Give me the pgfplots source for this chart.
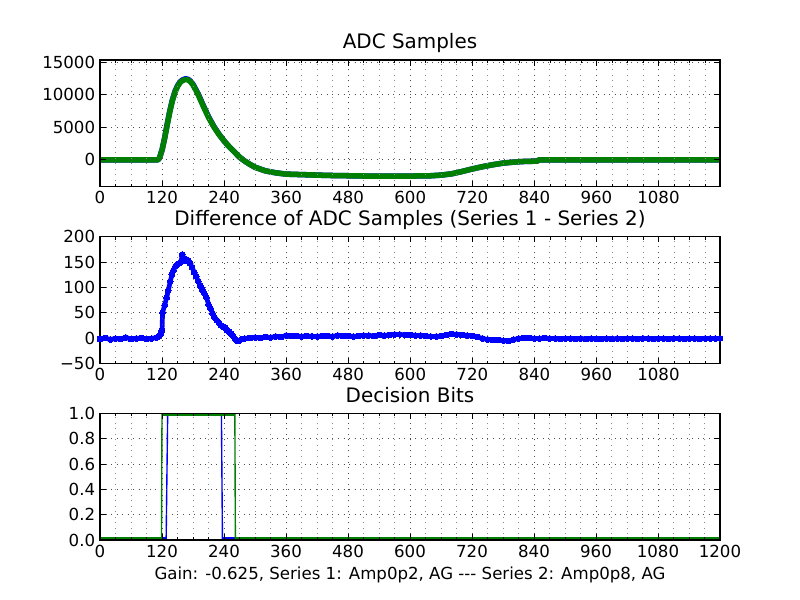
\documentclass[border=0pt]{standalone}
\usepackage{pgfplots}
\pgfplotsset{compat=1.18}
\usepackage{fontspec}
\setmainfont{DejaVu Sans}
\definecolor{mplblue}{rgb}{0,0,1}
\definecolor{mplgreen}{rgb}{0,0.5,0}
\pgfplotsset{
  mpl/.style={
    scale only axis, width=448.07pt, height=91.42pt,
    anchor=south west,
    axis on top,
    clip=true,
    tick align=inside,
    major tick length=4pt, minor tick length=2pt,
    every tick/.style={black, line width=0.5pt},
    axis line style={line width=1pt},
    grid=both,
    major grid style={black!70, line width=0.6pt, dash pattern=on 0.7pt off 3.3pt},
    minor grid style={black!45, line width=0.6pt, dash pattern=on 0.7pt off 3.3pt},
    xmin=0, xmax=1199,
    xtick={0,120,...,1080},
    minor xtick={30,60,...,1170},
    minor y tick num=0,
    scaled x ticks=false, scaled y ticks=false,
    ticklabel style={font=\fontsize{12}{14}\selectfont},
    /pgf/number format/assume math mode=true,
    /pgf/number format/1000 sep={},
    title style={at={(0.5,1)}, anchor=base, yshift=2pt, font=\fontsize{14.4}{17}\selectfont},
    unbounded coords=jump,
  }
}
\begin{document}
\begin{tikzpicture}
\path[use as bounding box, fill=white] (0,0) rectangle (578.16pt,433.62pt);

% ---------- Top: ADC Samples ----------
\begin{axis}[mpl, at={(72.27pt,298.84pt)},
  title={ADC Samples},
  ymin=-4100, ymax=15350,
  ytick={0,5000,10000,15000},
  yticklabels={0,5000,10000,15000}]
\addplot[mplblue, line width=4pt, line join=round] coordinates {
(0,0)(100,0)(110,0)(113,50)(115,300)(120,1500)(125,3350)(130,5500)(135,7500)(140,9200)(145,10500)(150,11400)(155,12000)(160,12300)(165,12450)(170,12400)(175,12100)(180,11600)(190,10100)(200,8300)(210,6600)(220,5150)(230,3950)(240,2900)(250,2000)(260,1200)(270,400)(280,-200)(290,-700)(300,-1150)(320,-1700)(340,-2000)(360,-2200)(400,-2300)(440,-2400)(480,-2450)(520,-2500)(600,-2500)(640,-2450)(660,-2350)(680,-2150)(700,-1800)(720,-1400)(740,-1050)(760,-750)(780,-500)(800,-350)(820,-250)(845,-200)(850,0)(1199,0)};
\addplot[mplgreen, line width=4pt, line join=round] coordinates {
(0,0)(100,0)(110,0)(113,50)(115,300)(120,1500)(125,3300)(130,5400)(135,7400)(140,9100)(145,10400)(150,11300)(155,11900)(160,12200)(165,12350)(170,12300)(175,12000)(180,11500)(190,10000)(200,8200)(210,6500)(220,5100)(230,3900)(240,2900)(250,2000)(260,1200)(270,400)(280,-200)(290,-700)(300,-1150)(320,-1700)(340,-2000)(360,-2200)(400,-2300)(440,-2400)(480,-2450)(520,-2500)(600,-2500)(640,-2450)(660,-2350)(680,-2150)(700,-1800)(720,-1400)(740,-1050)(760,-750)(780,-500)(800,-350)(820,-250)(845,-200)(850,0)(1199,0)};
\end{axis}

% ---------- Middle: Difference ----------
\begin{axis}[mpl, at={(72.27pt,171.06pt)},
  title={Difference of ADC Samples (Series 1 - Series 2)},
  ymin=-50, ymax=200,
  ytick={-50,0,50,100,150,200},
  yticklabels={−50,0,50,100,150,200}]
\addplot[mplblue, line width=3.4pt, line join=round, mark=*, mark size=2.1pt, mark options={line width=0pt}] coordinates {
(0,-2)(10,0)(20,-3)(30,-1)(40,-2)(50,1)(60,-2)(70,-1)(80,0)(90,-2)(100,-1)(110,1)(115,5)(118,10)(120,15)
(121,50)(125,65)(129,80)(132,94)(136,112)(139,125)(142,134)(146,142)(150,146)(154,148)(157,152)(159,165)(162,158)(165,152)(168,155)(171,153)(174,148)(178,140)(182,130)(186,122)(190,112)(194,103)(198,95)(202,88)(206,80)(210,66)(214,58)(218,48)(222,40)(226,35)(230,30)(234,25)(238,22)(242,20)(246,15)(250,12)(254,8)(258,3)(262,-3)(266,-6)(270,-5)(275,-2)(280,-1)
(290,0)(300,1)(310,0)(320,2)(330,1)(340,3)(350,2)(360,5)(370,4)(380,4)(390,3)(400,4)(410,3)(420,3)(430,4)(440,4)(450,3)(460,5)(470,4)(480,4)(490,3)(500,4)(510,5)(520,5)(530,4)(540,6)(550,5)(560,6)(570,7)(580,7)(590,6)(600,6)(610,5)(620,5)(630,4)(640,3)(650,3)(660,4)(670,6)(680,8)(690,7)(700,6)(710,5)(720,4)(730,2)(740,-1)(750,-3)(760,-4)(770,-4)(780,-5)(790,-6)(800,-3)(810,-1)(820,0)(830,0)(840,-1)(850,-1)(860,0)(870,-1)(880,-1)(890,-2)(900,-1)(910,-1)(920,-2)(930,-1)(940,-2)(950,-1)(960,-2)(970,-2)(980,-1)(990,-2)(1000,-1)(1010,-2)(1020,-1)(1030,-1)(1040,-2)(1050,-1)(1060,-1)(1070,-2)(1080,-1)(1090,-1)(1100,-2)(1110,-1)(1120,-1)(1130,-2)(1140,-1)(1150,-1)(1160,-2)(1170,-1)(1180,-1)(1190,-1)(1199,-1)};
\end{axis}

% ---------- Bottom: Decision Bits ----------
\begin{axis}[mpl, at={(72.27pt,43.36pt)},
  title={Decision Bits},
  xmax=1200,
  xtick={0,120,...,1200},
  ymin=0, ymax=1,
  ytick={0,0.2,0.4,0.6,0.8,1.0},
  yticklabels={0.0,0.2,0.4,0.6,0.8,1.0},
  xlabel={Gain: -0.625, Series 1: Amp0p2, AG -{}-{}- Series 2: Amp0p8, AG},
  xlabel style={font=\fontsize{12}{14}\selectfont}]
% Series 1 (blue)
\addplot[mplblue, line width=1pt] coordinates {(0,0)(128,0)(131,1)(235,1)(237,0)(1200,0)};
\addplot[mplblue, line width=4pt] coordinates {(0,0)(128,0)(129,nan)(131,1)(235,1)(236,nan)(237,0)(1200,0)};
% Series 2 (green)
\addplot[mplgreen, line width=1pt] coordinates {(0,0)(119,0)(120,1)(261,1)(262,0)(1200,0)};
\addplot[mplgreen, line width=4pt] coordinates {(0,0)(119,0)(119.5,nan)(120,1)(261,1)(261.5,nan)(262,0)(1200,0)};
\end{axis}
\end{tikzpicture}
\end{document}
